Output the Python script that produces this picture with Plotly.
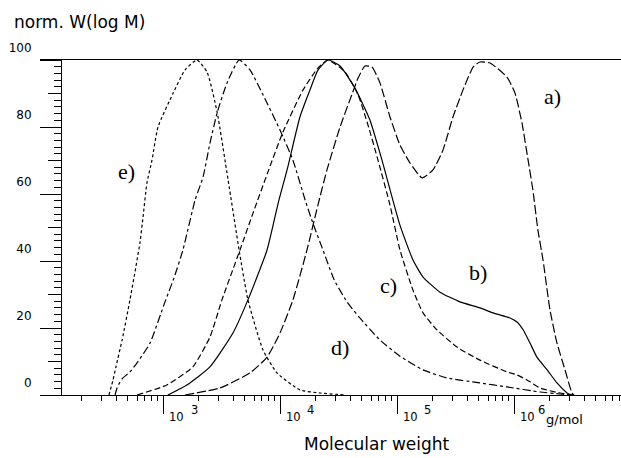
import math
import plotly.graph_objects as go

# ---- data: molecular weight (g/mol) and normalised W(log M) ----
m_a = [1540, 3070, 5550, 7750, 10000, 12900, 17000, 21100, 25200, 32600, 39600, 46500,
       53200, 61100, 71600, 87100, 106000, 129000, 164000, 203000, 247000, 301000, 366000,
       447000, 512000, 624000, 871000, 1020000, 1170000, 1320000, 1450000, 1600000,
       1770000, 2030000, 2330000, 2730000, 3130000, 3260000]
w_a = [0, 2.1, 6.6, 11.3, 18.5, 28.4, 43.3, 56.7, 67.2, 80.0, 88.1, 94.6,
       98.2, 97.9, 93.1, 83.0, 74.6, 69.3, 64.8, 67.2, 73.1, 83.0, 91.0,
       97.9, 99.4, 99.1, 94.9, 90.1, 81.2, 70.1, 61.2, 49.3,
       40.3, 25.4, 15.5, 7.5, 0.6, 0]

m_b = [1100, 1600, 2520, 3960, 5320, 7750, 9790, 11500, 14800, 18000, 21100, 25700,
       32600, 43700, 58700, 74400, 106000, 137000, 167000, 233000, 345000, 512000,
       662000, 925000, 1060000, 1200000, 1370000, 1570000, 1920000, 2330000, 2840000, 3010000]
w_b = [0, 3.0, 8.4, 18.5, 28.4, 43.3, 58.2, 67.2, 83.0, 91.0, 97.0, 100,
       98.2, 91.6, 82.1, 70.1, 50.7, 40.3, 35.2, 30.7, 27.8, 26.0,
       24.5, 23.0, 21.8, 19.4, 15.5, 11.3, 7.5, 3.6, 0.6, 0]

m_c = [600, 1080, 1800, 2520, 3190, 4550, 5880, 7890, 10600, 15700, 21100, 25700,
       36000, 46500, 56500, 68800, 87100, 106000, 137000, 167000, 220000, 326000,
       512000, 871000, 1060000, 1290000, 1670000, 2470000, 3320000]
w_c = [0, 3.0, 8.4, 17.3, 28.4, 43.3, 54.3, 66.6, 78.5, 91.0, 97.6, 100,
       96.4, 89.6, 80.6, 70.1, 56.7, 43.3, 31.3, 24.5, 19.4, 14.3,
       10.4, 6.9, 6.0, 4.5, 2.1, 0.6, 0]

m_d = [389, 405, 429, 455, 522, 600, 774, 1040, 1240, 1480, 1880, 2200, 2520, 2900,
       3520, 4470, 5550, 7160, 10000, 12900, 16400, 19100, 23300, 29100, 37400, 48100,
       71600, 106000, 167000, 267000, 512000, 871000, 1670000, 2470000, 3010000]
w_d = [0, 2.1, 3.9, 5.1, 6.9, 9.6, 15.5, 27.8, 34.9, 43.3, 58.2, 65.1, 75.2, 84.2,
       93.1, 100, 97.0, 89.6, 79.1, 70.1, 58.2, 51.3, 43.3, 34.3, 27.8, 23.0,
       16.4, 11.6, 7.5, 5.1, 3.6, 2.4, 0.9, 0.3, 0]

m_e = [345, 374, 396, 447, 522, 635, 675, 729, 805, 906, 1220, 1540, 1950, 2380, 2900,
       3600, 4470, 5320, 7160, 9420, 14800, 22000, 36000]
w_e = [0, 4.5, 8.4, 16.4, 28.4, 45.4, 53.1, 63.3, 70.1, 80.0, 90.1, 97.0, 100, 96.4, 84.5,
       64.2, 43.3, 28.4, 13.4, 6.6, 1.5, 0.6, 0]

curve_names = ["a)", "b)", "c)", "d)", "e)"]
label_m = [2150000, 492000, 83800, 32600, 492]
label_w = [89.0, 36.7, 32.8, 14.3, 66.6]

x_major = [1e3, 1e4, 1e5, 1e6]
x_exponents = ["3", "4", "5", "6"]
x_minor = [k * 10 ** n for n in range(2, 7) for k in range(2, 10)]
y_major20 = [0, 20, 40, 60, 80, 100]
y_major10 = list(range(0, 101, 10))

# ---- figure ----
fig = go.Figure()
styles = [
    ("9px,3px", m_a, w_a),
    ("solid", m_b, w_b),
    ("6px,3px", m_c, w_c),
    ("8px,3px,3px,3px", m_d, w_d),
    ("3px,2.5px", m_e, w_e),
]
for dash, mx, wy in styles:
    fig.add_trace(go.Scatter(
        x=mx, y=wy, mode="lines",
        line=dict(color="black", width=1.2, dash=dash, shape="spline", smoothing=0.5),
        showlegend=False, hoverinfo="skip"))

# carrier trace for the overlay axis holding the long ticks and labels
fig.add_trace(go.Scatter(x=[1e3], y=[0], yaxis="y2", mode="lines",
                         line=dict(color="rgba(0,0,0,0)"), showlegend=False, hoverinfo="skip"))

ypos = 21 / 581
fig.update_layout(
    width=621, height=458,
    margin=dict(l=40, r=0, t=60, b=63),
    paper_bgcolor="white", plot_bgcolor="white",
    xaxis=dict(type="log", range=[1.9487, 6.9145], showline=True, mirror=True,
               linecolor="black", linewidth=1, ticks="outside", tickvals=x_major,
               ticklen=18, tickcolor="black", tickwidth=1, showticklabels=False,
               minor=dict(tickvals=x_minor, ticks="outside", ticklen=5,
                          tickcolor="black", tickwidth=1),
               showgrid=False, zeroline=False),
    yaxis=dict(range=[0, 100], anchor="free", position=ypos, showline=True,
               linecolor="black", linewidth=1, ticks="outside", tickvals=y_major10,
               ticklen=13, tickcolor="black", showticklabels=False,
               minor=dict(dtick=2, ticks="outside", ticklen=7, tickcolor="black"),
               showgrid=False, zeroline=False),
    yaxis2=dict(range=[0, 100], overlaying="y", anchor="free", position=ypos,
                showline=False, ticks="outside", tickvals=y_major20, ticklen=21,
                tickcolor="black", showticklabels=True, ticklabelshift=-12,
                ticklabelstandoff=6,
                tickfont=dict(family="DejaVu Sans", size=12, color="black"),
                showgrid=False, zeroline=False),
)

exp_shift = [26, 25, 25, 22]
ann = []
for v, ex, sh in zip(x_major, x_exponents, exp_shift):
    ann.append(dict(x=math.log10(v), xref="x", y=0, yref="paper", text="10",
                    showarrow=False, xanchor="left", yanchor="middle",
                    xshift=4, yshift=-22,
                    font=dict(family="DejaVu Sans", size=11.5, color="black")))
    ann.append(dict(x=math.log10(v), xref="x", y=0, yref="paper", text=ex,
                    showarrow=False, xanchor="left", yanchor="middle",
                    xshift=sh, yshift=-15,
                    font=dict(family="DejaVu Sans", size=11.5, color="black")))
ann.append(dict(x=(544 - 40) / 581, xref="paper", y=0, yref="paper", text="g/mol",
                showarrow=False, xanchor="left", yanchor="middle", yshift=-24,
                font=dict(family="DejaVu Sans", size=13, color="black")))
ann.append(dict(x=(302 - 40) / 581, xref="paper", y=(395 - 444) / 335, yref="paper",
                text="Molecular weight", showarrow=False, xanchor="left", yanchor="middle",
                font=dict(family="DejaVu Sans", size=17, color="black")))
ann.append(dict(x=(12 - 40) / 581, xref="paper", y=(395 - 22) / 335, yref="paper",
                text="norm. W(log M)", showarrow=False, xanchor="left", yanchor="middle",
                font=dict(family="DejaVu Sans", size=17, color="black")))
for name, lm, lw in zip(curve_names, label_m, label_w):
    ann.append(dict(x=math.log10(lm), xref="x", y=lw, yref="y", text=name,
                    showarrow=False, xanchor="center", yanchor="middle",
                    font=dict(family="Liberation Serif", size=22, color="black")))
fig.update_layout(annotations=ann)

fig.write_html("out.html")
